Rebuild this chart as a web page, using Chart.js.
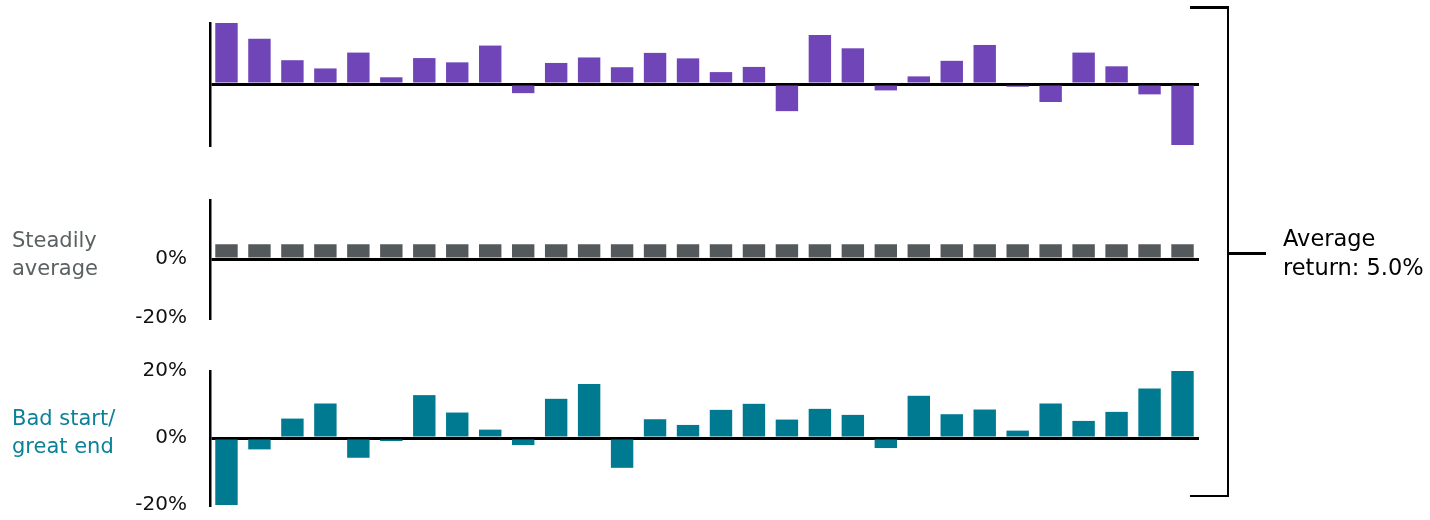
<!DOCTYPE html>
<html>
<head>
<meta charset="utf-8">
<script src="https://cdn.jsdelivr.net/npm/chart.js@4"></script>
<style>
  html, body { margin: 0; padding: 0; background: #fff; overflow: hidden; }
  body { width: 1430px; height: 520px; position: relative; font-family: "DejaVu Sans", sans-serif; }
  canvas { position: absolute; left: 0; }
  .lbl { position: absolute; font-size: 21px; line-height: 28px; }
  .br { position: absolute; background: #000; }
</style>
</head>
<body>
<canvas id="topChart" width="1200" height="152" style="top:8px"></canvas>
<canvas id="steadyChart" width="1200" height="188" style="top:165px"></canvas>
<canvas id="badStartChart" width="1200" height="204" style="top:336px"></canvas>

<div class="lbl" style="left:12px; top:226px; color:#5b6062;">Steadily<br>average</div>
<div class="lbl" style="left:12px; top:404px; color:#0b8298;">Bad start/<br>great end</div>

<!-- right bracket -->
<div class="br" style="left:1190px; top:6px; width:39px; height:2.5px;"></div>
<div class="br" style="left:1226.5px; top:6px; width:2.5px; height:491px;"></div>
<div class="br" style="left:1190px; top:494.5px; width:39px; height:2.5px;"></div>
<div class="br" style="left:1228px; top:252px; width:38px; height:2.5px;"></div>
<div class="lbl" style="left:1283px; top:224px; color:#000; font-size:22.5px; line-height:29px;">Average<br>return: 5.0%</div>

<script>
// 30 periods of returns (%)
const periods = ['1','2','3','4','5','6','7','8','9','10','11','12','13','14','15',
                 '16','17','18','19','20','21','22','23','24','25','26','27','28','29','30'];
const greatStart = [20.0, 14.8, 7.8, 5.1, 10.3, 2.2, 8.5, 7.1, 12.6, -3.0,
                    6.9, 8.7, 5.5, 10.2, 8.4, 3.9, 5.6, -8.9, 16.1, 11.7,
                    -2.1, 2.5, 7.6, 12.8, -0.9, -5.9, 10.3, 5.8, -3.4, -20.0];
const steady = [5, 5, 5, 5, 5, 5, 5, 5, 5, 5, 5, 5, 5, 5, 5,
                5, 5, 5, 5, 5, 5, 5, 5, 5, 5, 5, 5, 5, 5, 5];
const badStart = [-20.0, -3.4, 5.8, 10.3, -5.9, -0.9, 12.8, 7.6, 2.5, -2.1,
                  11.7, 16.1, -8.9, 5.6, 3.9, 8.4, 10.2, 5.5, 8.7, 6.9,
                  -3.0, 12.6, 7.1, 8.5, 2.2, 10.3, 5.1, 7.8, 14.8, 20.0];
const yTicks = [-20, 0, 20];

function panel(id, values, color, pad, tickFilter) {
    const ctx = document.getElementById(id).getContext('2d');
    return new Chart(ctx, {
        type: 'bar',
        data: {
            labels: periods,
            datasets: [{
                data: values,
                backgroundColor: color,
                borderWidth: 0,
                barPercentage: 0.68,
                categoryPercentage: 1.0
            }]
        },
        options: {
            responsive: false,
            animation: false,
            layout: { padding: { top: pad[0], bottom: pad[1], left: 0, right: 1 } },
            plugins: { legend: { display: false }, tooltip: { enabled: false } },
            scales: {
                x: { display: false },
                y: {
                    min: -20,
                    max: 20,
                    z: 1,
                    afterBuildTicks: (scale) => { scale.ticks = yTicks.map(v => ({ value: v })); },
                    afterFit: (scale) => { scale.width = 210; },
                    border: { display: true, color: '#000', width: 2.5 },
                    grid: {
                        drawTicks: false,
                        lineWidth: 3,
                        color: (c) => c.tick && c.tick.value === 0 ? '#000' : 'rgba(0,0,0,0)'
                    },
                    ticks: {
                        display: tickFilter !== null,
                        padding: 23,
                        color: '#111',
                        font: { family: 'DejaVu Sans', size: 20 },
                        callback: (v) => (tickFilter && tickFilter(v)) ? v + '%' : ''
                    }
                }
            }
        }
    });
}

const topChart = panel('topChart', greatStart, '#6f45b8', [15, 15], null);
const steadyChart = panel('steadyChart', steady, '#54595b', [0, 0], (v) => v !== 20);
const badStartChart = panel('badStartChart', badStart, '#007a91', [0, 0], () => true);
</script>
</body>
</html>
